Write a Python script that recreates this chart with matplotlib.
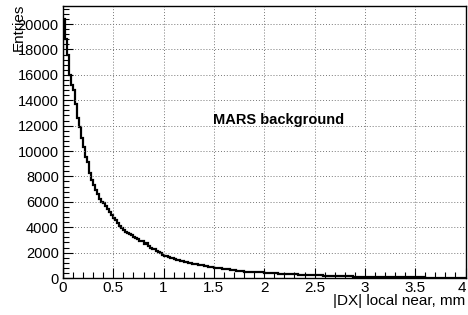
import numpy as np
import matplotlib
matplotlib.use('Agg')
import matplotlib.pyplot as plt
from matplotlib.ticker import MultipleLocator, FuncFormatter

plt.rcParams['font.family'] = ['Liberation Sans', 'DejaVu Sans']

# histogram: |DX| local near, 200 bins of 0.02 mm from 0 to 4
x_min, x_max, n_bins = 0.0, 4.0, 200
counts = [
    20400, 18800, 17600, 16000, 15200, 14800, 13700, 12600, 11900, 11050,
    10300, 9500, 9100, 8300, 7700, 7300, 6900, 6600, 6200, 6000,
    5900, 5700, 5400, 5200, 4950, 4700, 4550, 4300, 4100, 3950,
    3800, 3650, 3550, 3450, 3350, 3250, 3150, 3050, 2950, 2900,
    2700, 2750, 2550, 2400, 2300, 2250, 2150, 2050, 1970, 1850,
    1750, 1700, 1650, 1600, 1550, 1480, 1430, 1400, 1350, 1300,
    1280, 1230, 1200, 1160, 1130, 1100, 1070, 1040, 1050, 1000,
    960, 930, 900, 870, 840, 810, 800, 780, 760, 740,
    720, 700, 680, 650, 640, 620, 590, 560, 540, 520,
    510, 500, 490, 480, 470, 460, 470, 450, 440, 450,
    430, 410, 400, 390, 390, 370, 360, 350, 340, 340,
    330, 320, 310, 300, 290, 290, 280, 270, 260, 260,
    250, 250, 240, 230, 230, 220, 210, 210, 200, 190,
    190, 180, 180, 170, 170, 160, 150, 150, 140, 140,
    130, 130, 120, 120, 110, 110, 110, 100, 100, 95,
    95, 90, 90, 85, 85, 80, 80, 75, 75, 70,
    70, 68, 66, 64, 62, 60, 58, 56, 55, 53,
    52, 50, 48, 47, 46, 44, 43, 42, 41, 40,
    38, 37, 36, 35, 34, 33, 32, 31, 30, 29,
    28, 28, 27, 26, 25, 25, 24, 23, 23, 22,
]
edges = np.linspace(x_min, x_max, n_bins + 1)

title_text = 'MARS background'
x_label = '|DX| local near, mm'
y_label = 'Entries'

fig = plt.figure(figsize=(4.68, 3.15), dpi=100)
ax = fig.add_axes([63 / 468, 37 / 315, 402.5 / 468, 272 / 315])

ax.stairs(counts, edges, color='black', lw=1.6)

ax.set_xlim(x_min, x_max)
ax.set_ylim(0, 1.05 * max(counts))

ax.xaxis.set_major_locator(MultipleLocator(0.5))
ax.xaxis.set_minor_locator(MultipleLocator(0.1))
ax.yaxis.set_major_locator(MultipleLocator(2000))
ax.yaxis.set_minor_locator(MultipleLocator(400))
# last label is drawn by hand so it stays inside the canvas (ROOT style)
ax.xaxis.set_major_formatter(FuncFormatter(lambda v, p: '' if abs(v - x_max) < 1e-9 else f'{v:g}'))

ax.tick_params(which='both', direction='in', top=False, right=False, labelsize=10.5, width=0.8)
ax.tick_params(which='major', length=7)
ax.tick_params(which='minor', length=4)
ax.tick_params(axis='y', pad=3)
ax.tick_params(axis='x', labelsize=11, pad=2)

ax.grid(True, which='major', color='#777777', linestyle=(0, (1, 2)), lw=0.7)
for s in ax.spines.values():
    s.set_linewidth(1.0)

ax.annotate(f'{x_max:g}', xy=(x_max, 0), xycoords=('data', 'axes fraction'),
            xytext=(-2.5, -2), textcoords='offset points', ha='center', va='top',
            fontsize=11, annotation_clip=False)

ax.text(1.49, 12450, title_text, fontsize=10.5, fontweight='bold', ha='left', va='center')

fig.text(19 / 468, 1 - 4 / 315, y_label, rotation=90, ha='center', va='top', fontsize=11)
fig.text(465 / 468, 1 - 301 / 315, x_label, ha='right', va='center', fontsize=11)

fig.savefig('out.png', dpi=100)
